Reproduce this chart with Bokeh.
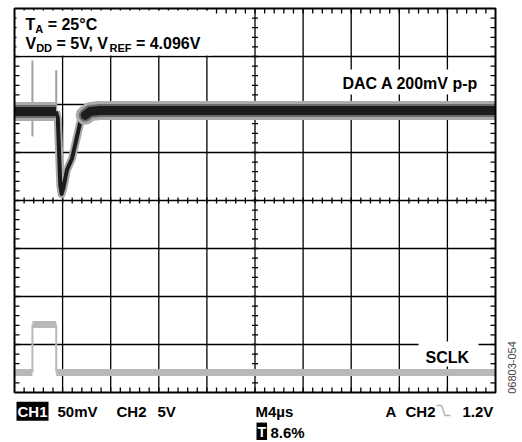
import math
from bokeh.plotting import figure
from bokeh.models import Range1d, Label, BoxAnnotation, PolyAnnotation
from bokeh.embed import file_html
from bokeh.resources import INLINE

# ---------------- scope settings / data ----------------
time_per_div_us = 4.0
n_xdiv = 10
n_ydiv = 8
ch1_mv_per_div = 50.0
ch2_v_per_div = 5.0
ch1_pos_div = 1.875      # CH1 trace position (divisions above centre)
ch2_pos_div = -3.583     # CH2 trace position (divisions below centre)
trigger_pct = 8.6
trigger_level_v = 1.2

# CH1 (DAC A output, mV relative to settled level)
ch1_t = [0.0, 3.45, 3.60, 3.81, 3.92, 4.06, 4.36, 4.78, 5.13, 5.47, 5.88, 6.29, 7.10, 40.0]
ch1_mv = [-1, -1, -8, -78, -87, -81, -62, -50, -31, -12, -5, -1, 0, 0]
# clock-feedthrough spikes on CH1
spike_t = [1.49, 3.47]
spike_hi = [52, 42]
spike_lo = [-27, -2]

# CH2 (SCLK, volts)
ch2_t = [0.0, 1.49, 1.49, 3.47, 3.47, 40.0]
ch2_v = [0, 0, 5, 5, 0, 0]

# ---------------- geometry ----------------
W, H = 520, 440
GL, GR, GT, GB = 14, 495, 8, 392          # graticule position on the canvas (px)
x0, x1 = 0.0, n_xdiv * time_per_div_us
y0 = (-n_ydiv / 2 - ch1_pos_div) * ch1_mv_per_div
y1 = (n_ydiv / 2 - ch1_pos_div) * ch1_mv_per_div
c0 = (-n_ydiv / 2 - ch2_pos_div) * ch2_v_per_div
c1 = (n_ydiv / 2 - ch2_pos_div) * ch2_v_per_div
sx = (x1 - x0) / (GR - GL)
sy = (y1 - y0) / (GB - GT)
sy2 = (c1 - c0) / (GB - GT)


def fx(px):
    return x0 + (px - GL) * sx


def fy(py):
    return y1 - (py - GT) * sy


p = figure(width=W, height=H,
           x_range=Range1d(x0 - GL * sx, x1 + (W - GR) * sx),
           y_range=Range1d(y0 - (H - GB) * sy, y1 + GT * sy),
           output_backend="svg", toolbar_location=None,
           x_axis_location=None, y_axis_location=None,
           min_border_left=0, min_border_right=0, min_border_top=0, min_border_bottom=0)
p.extra_y_ranges = {"ch2": Range1d(c0 - (H - GB) * sy2, c1 + GT * sy2)}
p.background_fill_color = "white"
p.border_fill_color = "white"
p.outline_line_color = None
p.grid.visible = False

# ---------------- graticule ----------------
x_major = [x0 + i * time_per_div_us for i in range(1, n_xdiv)]
y_major = [y0 + i * ch1_mv_per_div for i in range(1, n_ydiv)]
gkw = dict(line_color="black", line_width=1.3)
p.segment(x_major, [y0] * len(x_major), x_major, [y1] * len(x_major), **gkw)
p.segment([x0] * len(y_major), y_major, [x1] * len(y_major), y_major, **gkw)

x_minor = [x0 + i * time_per_div_us / 5 for i in range(1, n_xdiv * 5)]
y_minor = [y0 + i * ch1_mv_per_div / 5 for i in range(1, n_ydiv * 5)]
xc = (x0 + x1) / 2
yc = (y0 + y1) / 2
tl, cl = 5, 3   # tick lengths (px)
nx, ny = len(x_minor), len(y_minor)
p.segment(x_minor, [y1] * nx, x_minor, [y1 - tl * sy] * nx, **gkw)
p.segment(x_minor, [y0] * nx, x_minor, [y0 + tl * sy] * nx, **gkw)
p.segment(x_minor, [yc - cl * sy] * nx, x_minor, [yc + cl * sy] * nx, **gkw)
p.segment([x0] * ny, y_minor, [x0 + tl * sx] * ny, y_minor, **gkw)
p.segment([x1] * ny, y_minor, [x1 - tl * sx] * ny, y_minor, **gkw)
p.segment([xc - cl * sx] * ny, y_minor, [xc + cl * sx] * ny, y_minor, **gkw)

# ---------------- CH2 trace (SCLK) ----------------
ch2_col = "#b8b8b8"
for i in range(len(ch2_t) - 1):
    flat = ch2_v[i] == ch2_v[i + 1]
    p.line(ch2_t[i:i + 2], ch2_v[i:i + 2], y_range_name="ch2", line_color=ch2_col,
           line_width=7 if flat else 2, line_cap="butt")

# ---------------- CH1 trace (DAC A) ----------------
light, mid, dark = "#ababab", "#6c6c6c", "#1c1c1c"
p.segment(spike_t, spike_lo, spike_t, spike_hi, line_color="#a0a0a0", line_width=2)

trans = [i for i, t in enumerate(ch1_t) if 3.45 <= t <= 5.88]
tt = [ch1_t[i] for i in trans]
tv = [ch1_mv[i] for i in trans]
p.line(tt, tv, line_color=light, line_width=8, line_join="round")
p.line(tt, tv, line_color=dark, line_width=4, line_join="round")

bands = [([i for i, t in enumerate(ch1_t) if t <= 3.45], "butt"),
         ([i for i, t in enumerate(ch1_t) if 5.88 <= t <= 7.1], "round"),
         ([i for i, t in enumerate(ch1_t) if t >= 7.1], "butt")]
for col, lw in ((light, 19), (mid, 13), (dark, 9)):
    for idx, cap in bands:
        p.line([ch1_t[i] for i in idx], [ch1_mv[i] for i in idx], line_color=col,
               line_width=lw, line_cap=cap, line_join="round")

# ---------------- border and white label backgrounds ----------------
p.add_layout(BoxAnnotation(left=x0, right=x1, bottom=y0, top=y1, fill_alpha=0.0,
                           line_color="black", line_width=2, line_alpha=1.0))


def wbox(l, r, t, b):
    p.add_layout(BoxAnnotation(left=fx(l), right=fx(r), top=fy(t), bottom=fy(b),
                               fill_color="white", fill_alpha=1.0, line_alpha=0.0))


wbox(16, 211, 10, 55)
wbox(334, 482, 69, 94)
wbox(418, 478, 341, 366)

FONT = "Liberation Sans"


def lab(text, px, py, size=16, bold=True, align="left", color="black", **kw):
    py = py - 0.28 * size      # compensate renderer baseline placement
    p.add_layout(Label(x=fx(px), y=fy(py), text=text, text_font=FONT,
                       text_font_size=f"{size}px", text_font_style="bold" if bold else "normal",
                       text_align=align, text_baseline="alphabetic", text_color=color, **kw))


# Arial/Liberation Sans Bold advance widths (em)
AW = {" ": .278, "T": .611, "A": .722, "=": .584, "2": .556, "5": .556, "°": .4, "C": .722,
      "V": .667, "D": .722, ",": .278, "R": .722, "E": .667, "F": .611, "4": .556, ".": .278,
      "0": .556, "9": .556, "6": .556}


def tw(s, size):
    return sum(AW.get(c, .556) for c in s) * size


def rich(parts, px, py, size=16, sub=11, drop=4):
    x = px
    for s, is_sub in parts:
        fs = sub if is_sub else size
        lead = len(s) - len(s.lstrip(" "))
        x += tw(" " * lead, fs)
        s = s.lstrip(" ")
        lab(s, x, py + (drop if is_sub else 0), size=fs)
        x += tw(s, fs)


rich([("T", False), ("A", True), (" = 25°C", False)], 25, 28)
rich([("V", False), ("DD", True), (" = 5V, V", False), ("REF", True), (" = 4.096V", False)], 25, 47)

lab("DAC A 200mV p-p", 478, 87, align="right")
lab("SCLK", 425, 361)

# bottom status line
lab("CH1", 16, 415, size=15, color="white", background_fill_color="black", padding=1)
lab(f"{ch1_mv_per_div:.0f}mV", 57, 415, size=15)
lab("CH2", 116, 415, size=15)
lab(f"{ch2_v_per_div:.0f}V", 157, 415, size=15)
lab(f"M{time_per_div_us:.0f}µs", 255, 415, size=15)
lab("A", 385, 415, size=15)
lab("CH2", 405, 415, size=15)
lab(f"{trigger_level_v}V", 462, 415, size=15)
p.add_layout(PolyAnnotation(xs=[fx(436), fx(441), fx(444.5), fx(450), fx(444.5), fx(441)],
                            ys=[fy(405), fy(405), fy(415), fy(415), fy(415), fy(405)],
                            fill_alpha=0.0, line_color="black", line_width=1.5))
lab("T", 256, 435, size=14, color="white", background_fill_color="black", padding=1)
lab(f"{trigger_pct}%", 270, 436, size=15)

# figure id
p.add_layout(Label(x=fx(511), y=fy(367), text="06803-054", angle=math.pi / 2,
                   text_font=FONT, text_font_size="11px", text_color="#444444",
                   text_align="center", text_baseline="middle"))

open("out.html", "w").write(file_html(p, INLINE))
